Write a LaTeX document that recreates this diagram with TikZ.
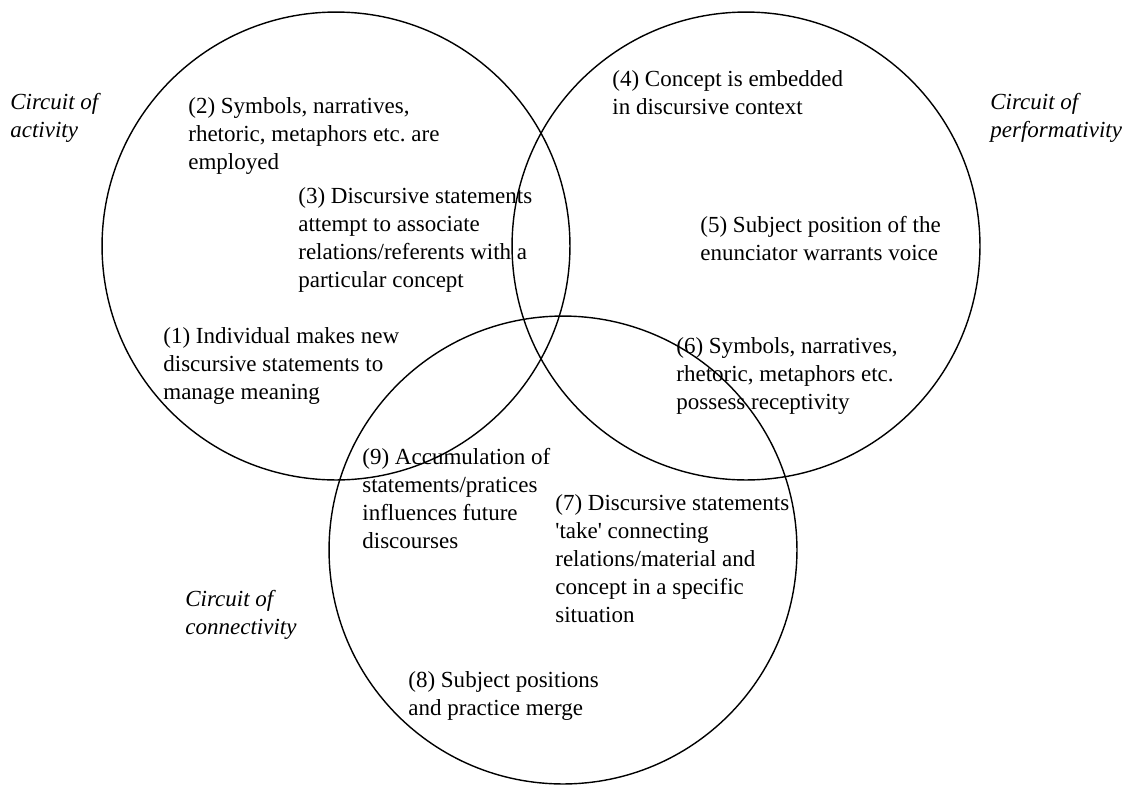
\documentclass[tikz,border=0pt]{standalone}
\usepackage{fontspec}
\setmainfont{Liberation Serif}
\usepackage{tikz}
\usetikzlibrary{positioning}

\begin{document}
\begin{tikzpicture}[x=0.02cm,y=-0.02cm,
        txt/.style={anchor=north west, inner sep=0pt, align=left,
            font=\fontsize{13.1}{15.9}\selectfont\frenchspacing},
        circuit/.style={txt, font=\fontsize{13.1}{15.9}\selectfont\itshape}
    ]
        \useasboundingbox (0,0) rectangle (1125,785);
        \draw[line width=0.8pt] (336,246) circle [radius=4.68cm];
        \draw[line width=0.8pt] (746,246) circle [radius=4.68cm];
        \draw[line width=0.8pt] (563,550) circle [radius=4.68cm];

        \node[circuit] (activity) at (10,93) {Circuit of\\activity};
        \node[circuit] (performativity) at (990,93) {Circuit of\\performativity};
        \node[circuit] (connectivity) at (185,590) {Circuit of\\connectivity};

        \node[txt] (employed) at (188,97) {(2) Symbols, narratives,\\rhetoric, metaphors etc. are\\employed};
        \node[txt] (associate) at (298,187) {(3) Discursive statements\\attempt to associate\\relations/referents with a\\particular concept};
        \node[txt] (individual) at (163,327) {(1) Individual makes new\\discursive statements to\\manage meaning};
        \node[txt] (embedded) at (612,70) {(4) Concept is embedded\\in discursive context};
        \node[txt] (voice) at (700,216) {(5) Subject position of the\\enunciator warrants voice};
        \node[txt] (receptivity) at (676,337) {(6) Symbols, narratives,\\rhetoric, metaphors etc.\\possess receptivity};
        \node[txt] (accumulation) at (362,448) {(9) Accumulation of\\statements/pratices\\influences future\\discourses};
        \node[txt] (take) at (555,494) {(7) Discursive statements\\\textquotesingle take\textquotesingle{} connecting\\relations/material and\\concept in a specific\\situation};
        \node[txt] (merge) at (408,671) {(8) Subject positions\\and practice merge};
    \end{tikzpicture}
\end{document}
